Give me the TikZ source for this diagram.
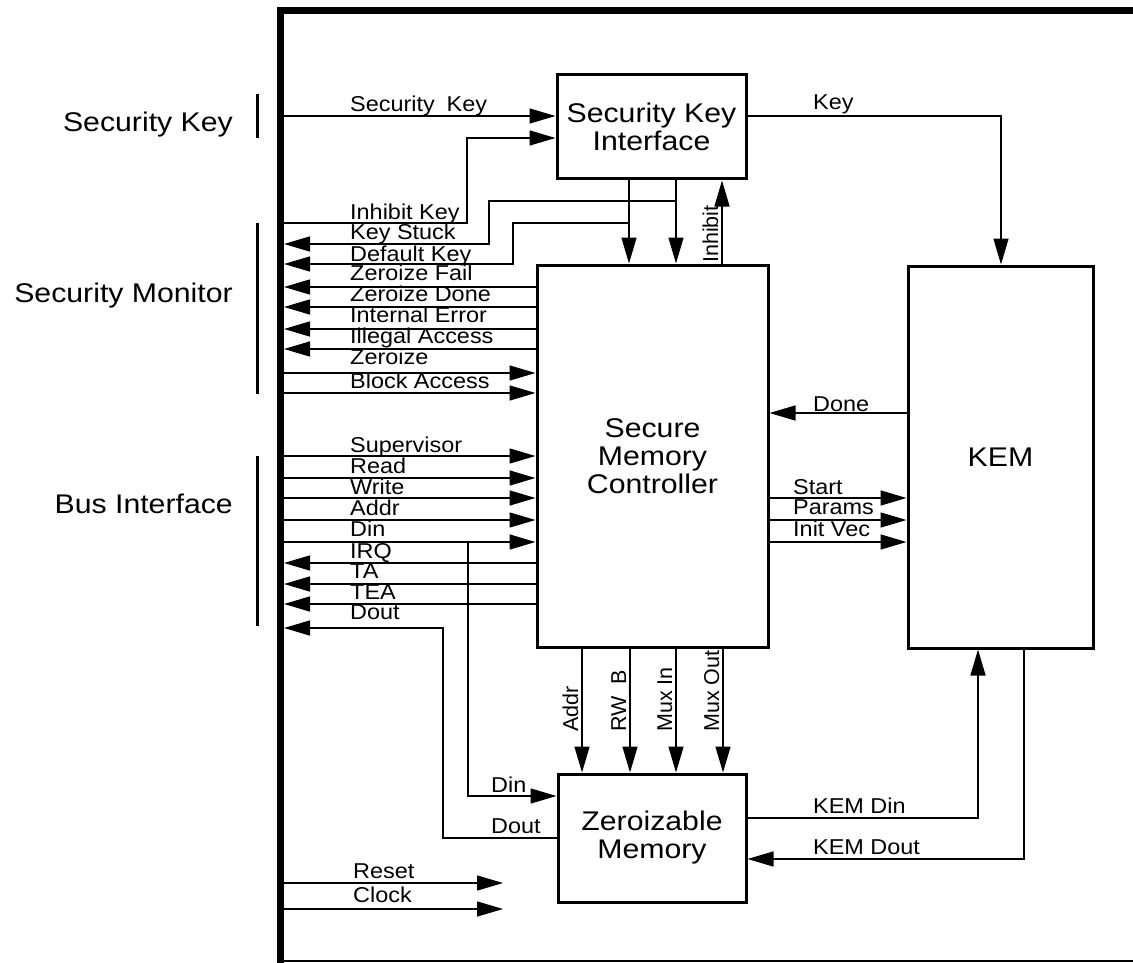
\documentclass[tikz,border=0pt]{standalone}
\usepackage{fontspec}
\setmainfont{Liberation Sans}
\newfontfamily\bigf[FakeStretch=1.12]{Liberation Sans}
\newfontfamily\sigf[FakeStretch=1.09]{Liberation Sans}
\usetikzlibrary{arrows.meta}
\begin{document}
\begin{tikzpicture}[x=1pt,y=-1pt,
 box/.style={draw, line width=3pt, inner sep=0pt, align=center, font=\bigf\fontsize{27}{28}\selectfont},
 wire/.style={line width=1.4pt},
 arr/.style={wire, -{Triangle[length=26pt,width=15pt]}},
 lbl/.style={anchor=base west, inner sep=0pt, font=\sigf\fontsize{21.5}{21}\selectfont},
 rlbl/.style={anchor=base west, inner sep=0pt, rotate=90, font=\fontsize{21.5}{21}\selectfont},
 grp/.style={anchor=base east, inner sep=0pt, font=\bigf\fontsize{27}{28}\selectfont},
 brk/.style={line width=3pt}]
\useasboundingbox (0,0) rectangle (1133,963);

% frame
\draw[line width=7pt] (280,963) -- (280,11) -- (1133,11);
\draw[line width=1.5pt] (280,961) -- (1133,961);
\coordinate (bar) at (284,0);

% group labels
\node[grp] (gsk) at (233,132) {Security Key};
\node[grp] (gsm) at (233,302) {Security Monitor};
\node[grp] (gbi) at (233,513) {Bus Interface};
\draw[brk] (257,94) -- (257,138);
\draw[brk] (257,223) -- (257,394);
\draw[brk] (257,456) -- (257,626);

% boxes
\node[box, minimum width=189, minimum height=104] (ski) at (651.5,127) {Security Key\\Interface};
\node[box, minimum width=231, minimum height=382] (smc) at (652.5,456) {Secure\\Memory\\Controller};
\node[box, minimum width=185, minimum height=382] (kem) at (1000.5,457) {KEM};
\node[box, minimum width=188, minimum height=128] (zm) at (652,838) {Zeroizable\\Memory};

% security key section
\draw[arr] (bar |- 0,116) -- (ski.west |- 0,116);
\draw[arr] (bar |- 0,223) -- (467,223) -- (467,138) -- (ski.west |- 0,138);
\draw[arr] (ski.south -| 629,0) -- (smc.north -| 629,0);
\draw[arr] (ski.south -| 676,0) -- (smc.north -| 676,0);
\draw[arr] (smc.north -| 722,0) -- (ski.south -| 722,0);
\draw[arr] (676,201) -- (489,201) -- (489,244) -- (bar |- 0,244);
\draw[arr] (629,223) -- (513,223) -- (513,264) -- (bar |- 0,264);
\draw[arr] (ski.east |- 0,116) -- (1001,116) -- (kem.north -| 1001,0);

% security monitor
\foreach \yy in {287,307,329,349} \draw[arr] (smc.west |- 0,\yy) -- (bar |- 0,\yy);
\foreach \yy in {373,393} \draw[arr] (bar |- 0,\yy) -- (smc.west |- 0,\yy);

% bus interface
\foreach \yy in {456,478,498,520,542} \draw[arr] (bar |- 0,\yy) -- (smc.west |- 0,\yy);
\foreach \yy in {563,584,604} \draw[arr] (smc.west |- 0,\yy) -- (bar |- 0,\yy);
\draw[arr] (468,542) -- (468,796) -- (zm.west |- 0,796);
\draw[arr] (zm.west |- 0,838) -- (443,838) -- (443,628) -- (bar |- 0,628);

% smc to memory
\foreach \xx in {582,630,676,723} \draw[arr] (smc.south -| \xx,0) -- (zm.north -| \xx,0);

% smc <-> kem
\draw[arr] (kem.west |- 0,413) -- (smc.east |- 0,413);
\foreach \yy in {498,520,542} \draw[arr] (smc.east |- 0,\yy) -- (kem.west |- 0,\yy);

% memory <-> kem
\draw[arr] (zm.east |- 0,818) -- (978,818) -- (kem.south -| 978,0);
\draw[arr] (kem.south -| 1024,0) -- (1024,859) -- (zm.east |- 0,859);

% reset / clock
\coordinate (rst) at (503,883);
\coordinate (clk) at (503,909);
\draw[arr] (bar |- rst) -- (rst);
\draw[arr] (bar |- clk) -- (clk);

% signal labels
\node[lbl] (l1) at (350,112) {Security\hspace{0.25em} Key};
\node[lbl] (l2) at (350,219) {Inhibit Key};
\node[lbl] (l3) at (350,239) {Key Stuck};
\node[lbl] (l4) at (350,261) {Default Key};
\node[lbl] (l5) at (350,280) {Zeroize Fail};
\node[lbl] (l6) at (350,301) {Zeroize Done};
\node[lbl] (l7) at (350,322) {Internal Error};
\node[lbl] (l8) at (350,343) {Illegal Access};
\node[lbl] (l9) at (350,364) {Zeroize};
\node[lbl] (l10) at (350,388) {Block Access};
\node[lbl] (l11) at (350,452) {Supervisor};
\node[lbl] (l12) at (350,473) {Read};
\node[lbl] (l13) at (350,494) {Write};
\node[lbl] (l14) at (350,515) {Addr};
\node[lbl] (l15) at (350,536) {Din};
\node[lbl] (l16) at (350,558) {IRQ};
\node[lbl] (l17) at (350,578) {TA};
\node[lbl] (l18) at (350,599) {TEA};
\node[lbl] (l19) at (350,619) {Dout};

\node[lbl] (r1) at (813,110) {Key};
\node[lbl] (r2) at (813,411) {Done};
\node[lbl] (r3) at (793,494) {Start};
\node[lbl] (r4) at (793,514) {Params};
\node[lbl] (r5) at (793,536) {Init Vec};
\node[lbl] (r6) at (813,813) {KEM Din};
\node[lbl] (r7) at (813,854) {KEM Dout};
\node[lbl] (b1) at (491,792) {Din};
\node[lbl] (b2) at (491,833) {Dout};
\node[lbl] (b3) at (353,878) {Reset};
\node[lbl] (b4) at (353,902) {Clock};

% rotated labels
\node[rlbl] (v0) at (718,263) {Inhibit};
\node[rlbl] (v1) at (578,732) {Addr};
\node[rlbl] (v2) at (626,732) {RW\_B};
\node[rlbl] (v3) at (672,732) {Mux In};
\node[rlbl] (v4) at (719,732) {Mux Out};
\end{tikzpicture}
\end{document}
